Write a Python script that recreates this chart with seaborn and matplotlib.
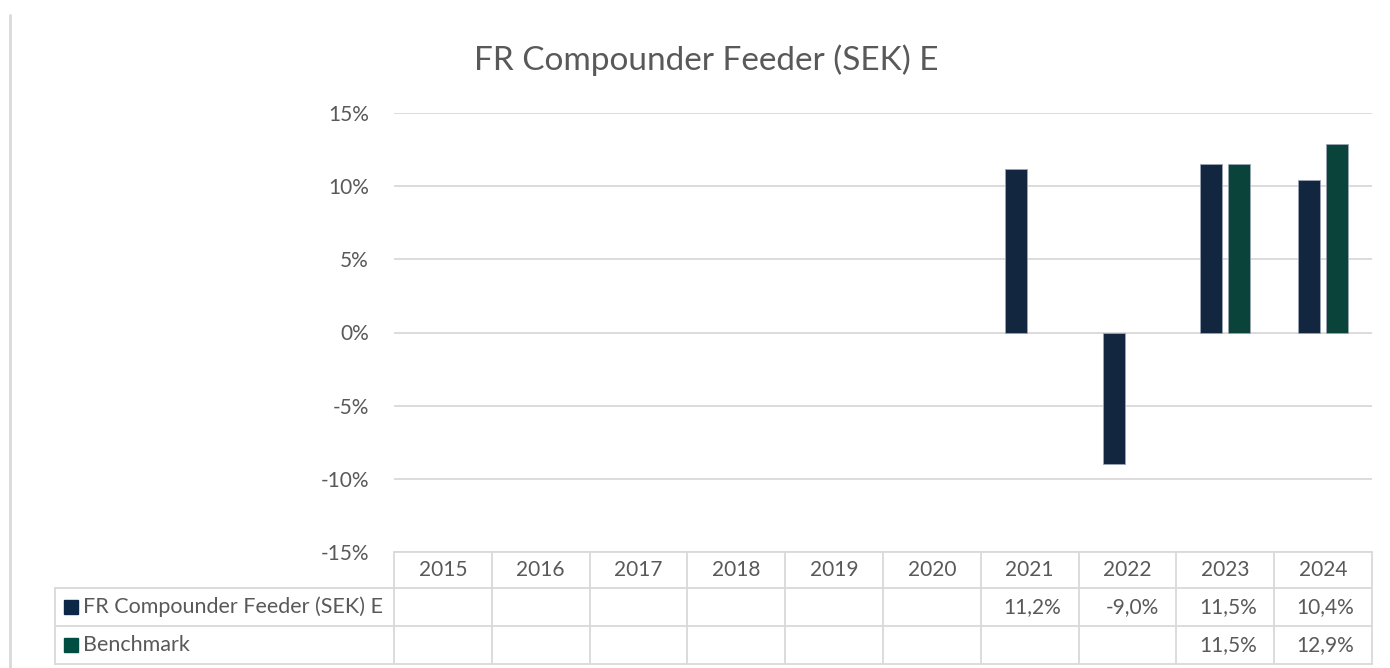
import numpy as np
import pandas as pd
import matplotlib
matplotlib.use('Agg')
import matplotlib.pyplot as plt
import matplotlib.transforms as mtransforms
from matplotlib.lines import Line2D
from matplotlib.patches import Rectangle
import seaborn as sns

years = ['2015', '2016', '2017', '2018', '2019', '2020', '2021', '2022', '2023', '2024']
fund_name = 'FR Compounder Feeder (SEK) E'
bench_name = 'Benchmark'
fund_vals = [np.nan, np.nan, np.nan, np.nan, np.nan, np.nan, 11.2, -9.0, 11.5, 10.4]
bench_vals = [np.nan, np.nan, np.nan, np.nan, np.nan, np.nan, np.nan, np.nan, 11.5, 12.9]
colors = ['#0B2646', '#004D41']
grey_text = '#595959'
grid_col = '#D9D9D9'

sns.set_style('white')
plt.rcParams['font.family'] = ['Lato', 'DejaVu Sans']

df = pd.DataFrame({
    'year': years * 2,
    'series': [fund_name] * len(years) + [bench_name] * len(years),
    'value': fund_vals + bench_vals,
})
df = df.dropna()

W, H = 1390, 668
fig = plt.figure(figsize=(W / 100, H / 100), dpi=100)
ax = fig.add_axes([394 / W, (H - 552) / H, (1372 - 394) / W, (552 - 113) / H])

sns.barplot(data=df, x='year', y='value', hue='series', order=years,
            hue_order=[fund_name, bench_name], palette=colors,
            width=0.57, gap=0.21, dodge=True, errorbar=None,
            edgecolor='#9AA5B5', linewidth=0.6, legend=False, ax=ax, zorder=3)

ax.set_xlim(-0.5, len(years) - 0.5)
ax.set_ylim(-15, 15)
ticks = [-15, -10, -5, 0, 5, 10, 15]
ax.set_yticks(ticks)
ax.set_yticklabels([f'{t}%' for t in ticks])
ax.tick_params(axis='y', length=0, pad=18, labelsize=15, labelcolor=grey_text)
ax.set_xticks([])
ax.set_xlabel('')
ax.set_ylabel('')
ax.yaxis.grid(True, color=grid_col, linewidth=1.3, zorder=0)
ax.set_axisbelow(True)
for s in ax.spines.values():
    s.set_visible(False)

fig.text(706 / W, 1 - 60 / H, fund_name, ha='center', va='center',
         fontsize=24, color=grey_text)

# data table under the chart
tr = mtransforms.blended_transform_factory(ax.transData, fig.transFigure)
rows_y = [1 - y / H for y in [552, 588, 626, 664]]
x0, x1 = -0.5, len(years) - 0.5
lw = 1.3
for yy in rows_y:
    ax.add_line(Line2D([x0, x1], [yy, yy], transform=tr, color=grid_col, lw=lw, clip_on=False))
for k in range(len(years) + 1):
    ax.add_line(Line2D([k - 0.5, k - 0.5], [rows_y[0], rows_y[-1]], transform=tr,
                       color=grid_col, lw=lw, clip_on=False))
# label column
lx = 55 / W
for yy in rows_y[1:]:
    fig.add_artist(Line2D([lx, 394 / W], [yy, yy], color=grid_col, lw=lw))
fig.add_artist(Line2D([lx, lx], [rows_y[1], rows_y[-1]], color=grid_col, lw=lw))

for k, yr in enumerate(years):
    ax.text(k, (rows_y[0] + rows_y[1]) / 2, yr, transform=tr, ha='center', va='center',
            fontsize=15, color=grey_text)
for r, (name, vals, c) in enumerate([(fund_name, fund_vals, colors[0]),
                                     (bench_name, bench_vals, colors[1])]):
    yc = (rows_y[r + 1] + rows_y[r + 2]) / 2
    fig.add_artist(Rectangle((64 / W, yc - 7 / H), 14 / W, 14 / H, color=c))
    fig.text(83 / W, yc, name, ha='left', va='center', fontsize=15.5, color=grey_text)
    for k, v in enumerate(vals):
        if not np.isnan(v):
            ax.text(k + 0.32, yc, f'{v:.1f}%'.replace('.', ','), transform=tr,
                    ha='right', va='center', fontsize=15, color=grey_text)

# thin border line at the far left
fig.add_artist(Line2D([10 / W, 10 / W], [1 - 15 / H, 0], color=grid_col, lw=2))

fig.savefig('out.png', dpi=100)
